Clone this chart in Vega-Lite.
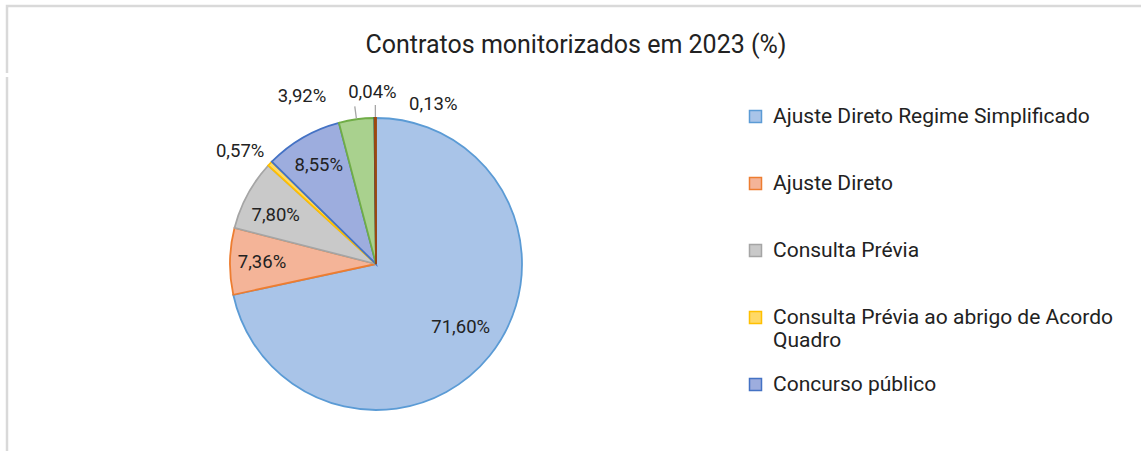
{
  "$schema": "https://vega.github.io/schema/vega-lite/v6.json",
  "padding": {"left": 5, "top": 4, "right": 0, "bottom": 0},
  "background": "white",
  "spacing": 0,
  "config": {
    "font": "Roboto"
  },
  "datasets": {
    "contratos": [
      {"proc": "Ajuste Direto Regime Simplificado", "pct": 71.60, "lbl": "71,60%", "ord": 1},
      {"proc": "Ajuste Direto", "pct": 7.36, "lbl": "7,36%", "ord": 2},
      {"proc": "Consulta Prévia", "pct": 7.80, "lbl": "7,80%", "ord": 3},
      {"proc": "Consulta Prévia ao abrigo de Acordo Quadro", "pct": 0.57, "lbl": "0,57%", "ord": 4},
      {"proc": "Concurso público", "pct": 8.55, "lbl": "8,55%", "ord": 5},
      {"proc": "Concurso público ao abrigo de Acordo Quadro", "pct": 3.92, "lbl": "3,92%", "ord": 6},
      {"proc": "Concurso limitado por prévia qualificação", "pct": 0.04, "lbl": "0,04%", "ord": 7},
      {"proc": "Procedimento de negociação", "pct": 0.13, "lbl": "0,13%", "ord": 8}
    ]
  },
  "vconcat": [
    {
      "width": 1134,
      "height": 67,
      "view": {"stroke": "#d9d9d9", "strokeWidth": 2.5, "strokeDash": [1201, 1201], "strokeDashOffset": 67},
      "title": {
        "text": "Contratos monitorizados em 2023 (%)",
        "font": "Roboto",
        "fontSize": 25,
        "fontWeight": "normal",
        "color": "#222222",
        "anchor": "middle",
        "frame": "group",
        "baseline": "middle",
        "offset": -64,
        "dx": 2
      },
      "data": {"values": [{"t": ""}]},
      "mark": {"type": "text"},
      "encoding": {"text": {"field": "t", "type": "nominal"}}
    },
    {
      "width": 738,
      "height": 374,
      "view": {"stroke": "#d9d9d9", "strokeWidth": 2.5, "strokeDash": [0, 1850, 374]},
      "data": {"name": "contratos"},
      "layer": [
        {
          "mark": {"type": "arc", "radius": 146, "strokeWidth": 1.8},
          "encoding": {
            "theta": {"field": "pct", "type": "quantitative", "stack": true},
            "order": {"field": "ord", "type": "quantitative"},
            "color": {
              "field": "proc",
              "type": "nominal",
              "scale": {
                "domain": ["Ajuste Direto Regime Simplificado", "Ajuste Direto", "Consulta Prévia", "Consulta Prévia ao abrigo de Acordo Quadro", "Concurso público", "Concurso público ao abrigo de Acordo Quadro", "Concurso limitado por prévia qualificação", "Procedimento de negociação"],
                "range": ["#a9c4e8", "#f4b498", "#c9c9c9", "#ffd966", "#9dadde", "#a9d18e", "#7f90b5", "#b85c22"]
              },
              "legend": {
                "orient": "none",
                "legendX": 738,
                "legendY": 100,
                "title": null,
                "values": ["Ajuste Direto Regime Simplificado", "Ajuste Direto", "Consulta Prévia", "Consulta Prévia ao abrigo de Acordo Quadro", "Concurso público"],
                "symbolType": "square",
                "symbolSize": 144,
                "symbolStrokeWidth": 1.5,
                "labelFont": "Roboto",
                "labelFontSize": 21,
                "labelColor": "#222222",
                "labelLimit": 420,
                "labelOffset": 7,
                "rowPadding": 22,
                "gridAlign": "all",
                "labelExpr": "datum.label == 'Consulta Prévia ao abrigo de Acordo Quadro' ? ['Consulta Prévia ao abrigo de Acordo', 'Quadro'] : datum.label"
              }
            },
            "stroke": {
              "field": "proc",
              "type": "nominal",
              "scale": {
                "domain": ["Ajuste Direto Regime Simplificado", "Ajuste Direto", "Consulta Prévia", "Consulta Prévia ao abrigo de Acordo Quadro", "Concurso público", "Concurso público ao abrigo de Acordo Quadro", "Concurso limitado por prévia qualificação", "Procedimento de negociação"],
                "range": ["#5b9bd5", "#ed7d31", "#a5a5a5", "#ffc000", "#4472c4", "#70ad47", "#264478", "#9e480e"]
              },
              "legend": {
                "orient": "none",
                "legendX": 738,
                "legendY": 100,
                "title": null,
                "values": ["Ajuste Direto Regime Simplificado", "Ajuste Direto", "Consulta Prévia", "Consulta Prévia ao abrigo de Acordo Quadro", "Concurso público"],
                "symbolType": "square",
                "symbolSize": 144,
                "symbolStrokeWidth": 1.5,
                "labelFont": "Roboto",
                "labelFontSize": 21,
                "labelColor": "#222222",
                "labelLimit": 420,
                "labelOffset": 7,
                "rowPadding": 22,
                "gridAlign": "all",
                "labelExpr": "datum.label == 'Consulta Prévia ao abrigo de Acordo Quadro' ? ['Consulta Prévia ao abrigo de Acordo', 'Quadro'] : datum.label"
              }
            }
          }
        },
        {
          "mark": {
            "type": "arc",
            "radius": 159,
            "radius2": 147,
            "padAngle": 0.5,
            "fillOpacity": 0,
            "stroke": "#a6a6a6",
            "strokeWidth": 1.3
          },
          "encoding": {
            "theta": {"field": "pct", "type": "quantitative", "stack": true},
            "order": {"field": "ord", "type": "quantitative"},
            "strokeOpacity": {"condition": {"test": "datum.pct == 3.92 || datum.pct == 0.13", "value": 1}, "value": 0}
          }
        },
        {
          "mark": {
            "type": "text",
            "font": "Roboto",
            "fontSize": 18.5,
            "color": "#222222",
            "align": "center",
            "baseline": "middle",
            "radius": 114,
            "dx": {"expr": "datum.pct == 71.6 ? -4 : 0"},
            "dy": {"expr": "datum.pct == 7.8 ? 5 : datum.pct == 71.6 ? -9 : 0"}
          },
          "encoding": {
            "theta": {"field": "pct", "type": "quantitative", "stack": true},
            "order": {"field": "ord", "type": "quantitative"},
            "text": {"condition": {"test": "datum.pct < 5", "value": ""}, "field": "lbl", "type": "nominal"}
          }
        },
        {
          "mark": {
            "type": "text",
            "font": "Roboto",
            "fontSize": 18.5,
            "color": "#222222",
            "align": "center",
            "baseline": "middle",
            "radius": 172,
            "dx": {"expr": "datum.pct == 0.57 ? -11 : datum.pct == 3.92 ? -51 : datum.pct == 0.04 ? -2 : datum.pct == 0.13 ? 58 : 0"},
            "dy": {"expr": "datum.pct == 0.57 ? 5 : datum.pct == 3.92 ? 2 : datum.pct == 0.13 ? 12 : 0"}
          },
          "encoding": {
            "theta": {"field": "pct", "type": "quantitative", "stack": true},
            "order": {"field": "ord", "type": "quantitative"},
            "text": {"condition": {"test": "datum.pct >= 5", "value": ""}, "field": "lbl", "type": "nominal"}
          }
        }
      ]
    }
  ]
}
